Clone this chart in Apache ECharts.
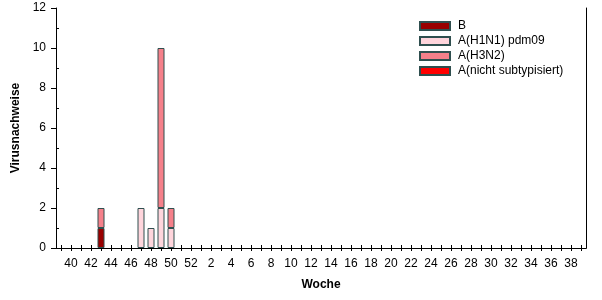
<!DOCTYPE html>
<html>
<head>
<meta charset="utf-8">
<script src="https://cdn.jsdelivr.net/npm/echarts@6/dist/echarts.min.js"></script>
<style>html,body{margin:0;padding:0;background:#fff}#c{width:602px;height:300px}</style>
</head>
<body>
<div id="c"></div>
<script>
// Calendar weeks (week 39 of one season through week 39 of the next)
const weeks = ['39','40','41','42','43','44','45','46','47','48','49','50','51','52',
  '1','2','3','4','5','6','7','8','9','10','11','12','13','14','15','16','17','18','19','20',
  '21','22','23','24','25','26','27','28','29','30','31','32','33','34','35','36','37','38','39'];
const seriesNames = ['B', 'A(H1N1) pdm09', 'A(H3N2)', 'A(nicht subtypisiert)'];
const valuesB = [null,null,null,null,1,null,null,null,null,null,null,null,null,null,
  null,null,null,null,null,null,null,null,null,null,null,null,null,null,null,null,null,null,null,null,
  null,null,null,null,null,null,null,null,null,null,null,null,null,null,null,null,null,null,null];
const valuesH1N1 = [null,null,null,null,null,null,null,null,2,1,2,1,null,null,
  null,null,null,null,null,null,null,null,null,null,null,null,null,null,null,null,null,null,null,null,
  null,null,null,null,null,null,null,null,null,null,null,null,null,null,null,null,null,null,null];
const valuesH3N2 = [null,null,null,null,1,null,null,null,null,null,8,1,null,null,
  null,null,null,null,null,null,null,null,null,null,null,null,null,null,null,null,null,null,null,null,
  null,null,null,null,null,null,null,null,null,null,null,null,null,null,null,null,null,null,null];
const valuesNicht = [null,null,null,null,null,null,null,null,null,null,null,null,null,null,
  null,null,null,null,null,null,null,null,null,null,null,null,null,null,null,null,null,null,null,null,
  null,null,null,null,null,null,null,null,null,null,null,null,null,null,null,null,null,null,null];
const yTicks = [0, 2, 4, 6, 8, 10, 12];

const colors = ['#990000', '#FFD5DC', '#F5808A', '#FF0000'];
const seriesData = [valuesB, valuesH1N1, valuesH3N2, valuesNicht];
const font = 'Liberation Sans, Arial, sans-serif';
const lineStyle = { color: '#000', width: 1 };

const chart = echarts.init(document.getElementById('c'), null, { renderer: 'canvas' });
chart.setOption({
  animation: false,
  backgroundColor: '#fff',
  textStyle: { fontFamily: font },
  grid: { left: 56, right: 16, top: 8, bottom: 52, containLabel: false },
  legend: {
    orient: 'vertical', left: 414, top: 14,
    itemWidth: 30, itemHeight: 8, itemGap: 1,
    icon: 'rect',
    data: seriesNames,
    textStyle: { fontFamily: font, fontSize: 12, color: '#000', lineHeight: 14, padding: [0, 0, 0, 3] }
  },
  xAxis: [
    {
      type: 'category', position: 'bottom', data: weeks, boundaryGap: true,
      name: 'Woche', nameLocation: 'middle', nameGap: 31,
      nameTextStyle: { fontFamily: font, fontSize: 12, fontWeight: 'bold', color: '#000' },
      axisLine: { show: true, lineStyle: lineStyle },
      axisTick: { show: true, alignWithLabel: true, interval: 0, length: 3, inside: false, lineStyle: lineStyle },
      axisLabel: {
        interval: function (i, v) { return parseInt(weeks[i], 10) % 2 === 0; },
        margin: 10, fontFamily: font, fontSize: 12, color: '#000'
      },
      splitLine: { show: false }
    },
    {
      type: 'category', position: 'bottom', data: weeks, boundaryGap: true,
      axisLine: { show: false },
      axisTick: { show: true, alignWithLabel: true, interval: 0, length: 3, inside: true, lineStyle: lineStyle },
      axisLabel: { show: false },
      splitLine: { show: false }
    },
    {
      type: 'category', position: 'top', data: weeks, boundaryGap: true,
      axisLine: { show: true, lineStyle: lineStyle },
      axisTick: { show: true, alignWithLabel: true, interval: 0, length: 3, inside: true, lineStyle: lineStyle },
      axisLabel: { show: false },
      splitLine: { show: false }
    }
  ],
  yAxis: [
    {
      type: 'value', position: 'left', min: yTicks[0], max: yTicks[yTicks.length - 1], interval: 2,
      name: 'Virusnachweise', nameLocation: 'middle', nameGap: 33,
      nameTextStyle: { fontFamily: font, fontSize: 12, fontWeight: 'bold', color: '#000' },
      axisLine: { show: true, lineStyle: lineStyle },
      axisTick: { show: true, length: 5, inside: false, lineStyle: lineStyle },
      axisLabel: { margin: 10, fontFamily: font, fontSize: 12, color: '#000' },
      splitLine: { show: false }
    },
    {
      type: 'value', position: 'left', min: 0, max: 12, interval: 1,
      axisLine: { show: false },
      axisTick: { show: true, length: 3, inside: true, lineStyle: lineStyle, customValues: [1, 3, 5, 7, 9, 11] },
      axisLabel: { show: false },
      splitLine: { show: false }
    },
    {
      type: 'value', position: 'right', min: 0, max: 12, interval: 2,
      axisLine: { show: true, lineStyle: lineStyle },
      axisTick: { show: false },
      axisLabel: { show: false },
      splitLine: { show: false }
    }
  ],
  series: seriesNames.map(function (name, k) {
    return {
      name: name, type: 'bar', stack: 'total',
      xAxisIndex: 0, yAxisIndex: 0,
      barWidth: 7,
      data: seriesData[k],
      itemStyle: { color: colors[k], borderColor: '#2F4F4F', borderWidth: 1 }
    };
  })
});
</script>
</body>
</html>
